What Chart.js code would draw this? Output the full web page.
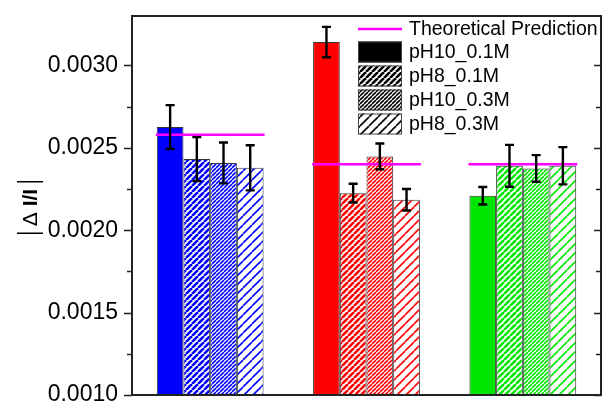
<!DOCTYPE html>
<html>
<head>
<meta charset="utf-8">
<script src="https://cdn.jsdelivr.net/npm/chart.js@4.4.1/dist/chart.umd.min.js"></script>
<style>
  html, body { margin: 0; padding: 0; background: #fff; }
</style>
</head>
<body>
<canvas id="chart" width="602" height="401"></canvas>
<script>
const categories = ['Sample 1', 'Sample 2', 'Sample 3'];
const groupColors = ['#0000ff', '#ff0000', '#00e600'];
const seriesNames = ['pH10_0.1M', 'pH8_0.1M', 'pH10_0.3M', 'pH8_0.3M'];
const seriesStyles = ['solid', 'hatch', 'fine', 'sparse'];

const pH10_01M = [0.002626, 0.003142, 0.002209];
const pH8_01M = [0.002432, 0.002225, 0.002391];
const pH10_03M = [0.002408, 0.002448, 0.002375];
const pH8_03M = [0.002379, 0.002185, 0.002391];

const pH10_01M_err = [0.000133, 0.000092, 0.000053];
const pH8_01M_err = [0.000133, 0.000057, 0.000127];
const pH10_03M_err = [0.000124, 0.000078, 0.000081];
const pH8_03M_err = [0.000137, 0.000065, 0.000113];

const theory = [0.00258, 0.0024, 0.0024];

const yMin = 0.001;
const yMax = 0.0033;
const yStep = 0.00025;

const seriesValues = [pH10_01M, pH8_01M, pH10_03M, pH8_03M];
const seriesErrors = [pH10_01M_err, pH8_01M_err, pH10_03M_err, pH8_03M_err];

const FONT = 'Liberation Sans, Arial, sans-serif';

// diagonal hatch tiles
const hatchSpec = {
    hatch: { size: 6, width: 2.6 },
    fine: { size: 4, width: 1.6 },
    sparse: { size: 9, width: 1.6 }
};

function makeFill(color, style) {
    if (style === 'solid') return color;
    const spec = hatchSpec[style];
    const tile = document.createElement('canvas');
    tile.width = spec.size;
    tile.height = spec.size;
    const t = tile.getContext('2d');
    t.fillStyle = '#fff';
    t.fillRect(0, 0, spec.size, spec.size);
    t.strokeStyle = color;
    t.lineWidth = spec.width;
    for (let k = -1; k <= 1; k++) {
        t.beginPath();
        t.moveTo(k * spec.size, spec.size);
        t.lineTo(k * spec.size + spec.size, 0);
        t.stroke();
    }
    return t.createPattern(tile, 'repeat');
}

function isMajor(v) {
    const r = v / 0.0005;
    return Math.abs(r - Math.round(r)) < 1e-6;
}

function isStep(v) {
    const r = v / yStep;
    return Math.abs(r - Math.round(r)) < 1e-6;
}

const decorPlugin = {
    id: 'decor',
    afterDatasetsDraw(chart) {
        const ctx = chart.ctx;
        const y = chart.scales.y;
        const first = chart.getDatasetMeta(0);
        const last = chart.getDatasetMeta(seriesNames.length - 1);

        // theoretical prediction lines
        ctx.save();
        ctx.strokeStyle = '#ff00ff';
        ctx.lineWidth = 2.5;
        theory.forEach((v, j) => {
            const a = first.data[j];
            const b = last.data[j];
            const py = y.getPixelForValue(v);
            ctx.beginPath();
            ctx.moveTo(a.x - a.width / 2 - 1, py);
            ctx.lineTo(b.x + b.width / 2 + 1, py);
            ctx.stroke();
        });

        // error bars
        ctx.strokeStyle = '#000';
        ctx.lineWidth = 2.4;
        seriesValues.forEach((vals, i) => {
            const meta = chart.getDatasetMeta(i);
            vals.forEach((v, j) => {
                const e = seriesErrors[i][j];
                const px = meta.data[j].x;
                const top = y.getPixelForValue(v + e);
                const bot = y.getPixelForValue(v - e);
                ctx.beginPath();
                ctx.moveTo(px, top);
                ctx.lineTo(px, bot);
                ctx.moveTo(px - 4.5, top);
                ctx.lineTo(px + 4.5, top);
                ctx.moveTo(px - 4.5, bot);
                ctx.lineTo(px + 4.5, bot);
                ctx.stroke();
            });
        });
        ctx.restore();
    },
    afterDraw(chart) {
        const ctx = chart.ctx;
        const ca = chart.chartArea;
        const y = chart.scales.y;
        ctx.save();

        // frame
        ctx.strokeStyle = '#222';
        ctx.lineWidth = 2;
        ctx.beginPath();
        ctx.moveTo(ca.left, ca.top);
        ctx.lineTo(ca.right, ca.top);
        ctx.lineTo(ca.right, ca.bottom);
        ctx.lineTo(ca.left, ca.bottom);
        ctx.closePath();
        ctx.stroke();

        // ticks: outward on left, inward on right
        ctx.lineWidth = 1.5;
        y.ticks.forEach(t => {
            if (!isStep(t.value) || t.value > yMax - 1e-9) return;
            const major = isMajor(t.value);
            const py = Math.round(y.getPixelForValue(t.value)) + 0.5;
            ctx.beginPath();
            ctx.moveTo(ca.left - (major ? 8 : 5), py);
            ctx.lineTo(ca.left, py);
            ctx.moveTo(ca.right - (major ? 7 : 5), py);
            ctx.lineTo(ca.right, py);
            ctx.stroke();
        });

        // y title |Δ I/I|
        ctx.translate(30, (ca.top + ca.bottom) / 2 + 2);
        ctx.rotate(-Math.PI / 2);
        ctx.fillStyle = '#000';
        ctx.textBaseline = 'middle';
        const parts = [
            { t: 'Δ ', f: 'normal 21px ' + FONT },
            { t: 'I/I', f: 'bold 21px ' + FONT }
        ];
        let total = 0;
        parts.forEach(p => { ctx.font = p.f; p.w = ctx.measureText(p.t).width; total += p.w; });
        let x = -total / 2;
        parts.forEach(p => { ctx.font = p.f; ctx.fillText(p.t, x, 1); x += p.w; });
        ctx.strokeStyle = '#000';
        ctx.lineWidth = 1.4;
        ctx.beginPath();
        ctx.moveTo(-total / 2 - 7, -13);
        ctx.lineTo(-total / 2 - 7, 13);
        ctx.moveTo(total / 2 + 7, -13);
        ctx.lineTo(total / 2 + 7, 13);
        ctx.stroke();
        ctx.setTransform(1, 0, 0, 1, 0, 0);

        // legend
        const lx = 358, lw = 44, bh = 21, tx = 409;
        const rows = [29, 52, 76, 100, 124];
        ctx.font = '19.5px ' + FONT;
        ctx.textBaseline = 'middle';
        ctx.fillStyle = '#000';
        ctx.strokeStyle = '#ff00ff';
        ctx.lineWidth = 2.5;
        ctx.beginPath();
        ctx.moveTo(lx, rows[0]);
        ctx.lineTo(lx + lw, rows[0]);
        ctx.stroke();
        ctx.fillText('Theoretical Prediction', tx, rows[0] + 1);
        seriesNames.forEach((name, i) => {
            const ry = rows[i + 1];
            ctx.fillStyle = makeFill('#000', seriesStyles[i]);
            ctx.fillRect(lx, ry - bh / 2, lw, bh);
            ctx.strokeStyle = '#444';
            ctx.lineWidth = 1;
            ctx.strokeRect(lx + 0.5, ry - bh / 2 + 0.5, lw - 1, bh - 1);
            ctx.fillStyle = '#000';
            ctx.fillText(name, tx, ry + 1);
        });
        ctx.restore();
    }
};

const datasets = seriesNames.map((name, i) => ({
    label: name,
    data: seriesValues[i],
    backgroundColor: categories.map((c, j) => makeFill(groupColors[j], seriesStyles[i])),
    borderColor: '#333',
    borderWidth: 1,
    categoryPercentage: 0.683,
    barPercentage: 1.0
}));

new Chart(document.getElementById('chart'), {
    type: 'bar',
    data: { labels: categories, datasets },
    options: {
        responsive: false,
        animation: false,
        layout: { padding: { top: 16, right: 1, bottom: 6, left: 0 } },
        plugins: {
            legend: { display: false },
            tooltip: { enabled: false }
        },
        scales: {
            x: { display: false },
            y: {
                min: yMin,
                max: yMax,
                border: { display: false },
                grid: { drawOnChartArea: false, drawTicks: true, tickLength: 8, color: 'rgba(0,0,0,0)' },
                ticks: {
                    stepSize: yStep,
                    autoSkip: false,
                    padding: 6,
                    color: '#000',
                    font: { family: FONT, size: 23 },
                    callback: v => isMajor(v) ? v.toFixed(4) : ''
                },
                afterFit: s => {
                    s.width = 132;
                    s.paddingTop = 0;
                    s.paddingBottom = 0;
                }
            }
        }
    },
    plugins: [decorPlugin]
});
</script>
</body>
</html>
